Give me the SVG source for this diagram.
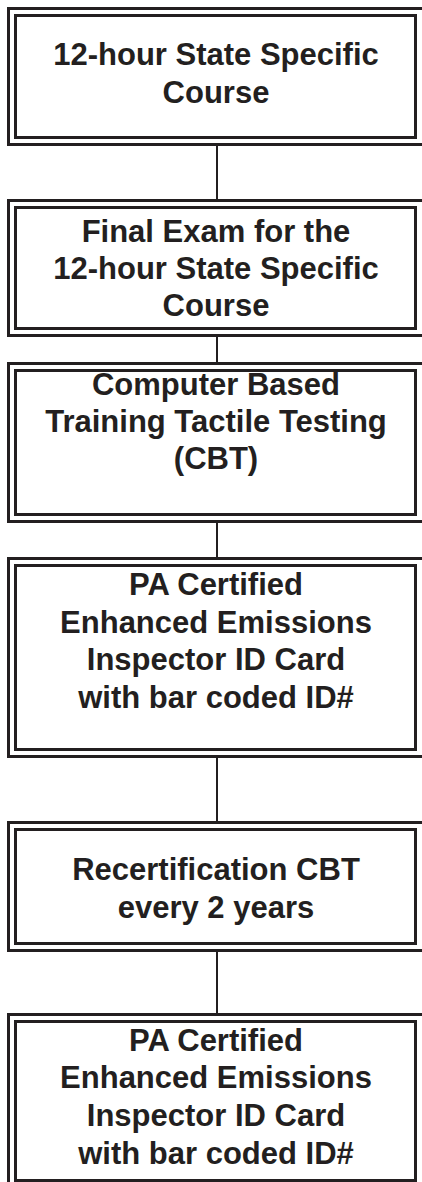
<svg xmlns="http://www.w3.org/2000/svg" width="422" height="1182" viewBox="0 0 422 1182">
<style>
.o{fill:none;stroke:#231f20;stroke-width:3}
.i{fill:none;stroke:#231f20;stroke-width:3}
.c{stroke:#231f20;stroke-width:2;fill:none}
text{font-family:"Liberation Sans",Arial,sans-serif;font-weight:bold;font-size:31px;fill:#231f20;text-anchor:middle}
</style>
<rect width="422" height="1182" fill="#fff"/>
<g id="connectors">
<line class="c" x1="217" y1="146" x2="217" y2="199"/>
<line class="c" x1="217" y1="337" x2="217" y2="362"/>
<line class="c" x1="217" y1="523" x2="217" y2="557"/>
<line class="c" x1="217" y1="758" x2="217" y2="821"/>
<line class="c" x1="217" y1="952" x2="217" y2="1013"/>
</g>
<g id="n1">
<rect class="o" x="8.5" y="8.5" width="420" height="136"/>
<rect class="i" x="15.5" y="15.5" width="400" height="122"/>
<text x="216" y="65">12-hour State Specific</text>
<text x="216" y="103">Course</text>
</g>
<g id="n2">
<rect class="o" x="8.5" y="200.5" width="420" height="135"/>
<rect class="i" x="15.5" y="207.5" width="400" height="121"/>
<text x="216" y="242">Final Exam for the</text>
<text x="216" y="279">12-hour State Specific</text>
<text x="216" y="316">Course</text>
</g>
<g id="n3">
<rect class="o" x="8.5" y="363.5" width="420" height="158"/>
<rect class="i" x="15.5" y="370.5" width="400" height="144"/>
<text x="216" y="395">Computer Based</text>
<text x="216" y="432">Training Tactile Testing</text>
<text x="216" y="469">(CBT)</text>
</g>
<g id="n4">
<rect class="o" x="8.5" y="558.5" width="420" height="198"/>
<rect class="i" x="15.5" y="565.5" width="400" height="184"/>
<text x="216" y="595">PA Certified</text>
<text x="216" y="633">Enhanced Emissions</text>
<text x="216" y="670">Inspector ID Card</text>
<text x="216" y="708">with bar coded ID#</text>
</g>
<g id="n5">
<rect class="o" x="8.5" y="822.5" width="420" height="128"/>
<rect class="i" x="15.5" y="829.5" width="400" height="114"/>
<text x="216" y="880">Recertification CBT</text>
<text x="216" y="918">every 2 years</text>
</g>
<g id="n6">
<rect class="o" x="8.5" y="1014.5" width="420" height="180"/>
<rect class="i" x="15.5" y="1021.5" width="400" height="159"/>
<text x="216" y="1051">PA Certified</text>
<text x="216" y="1088">Enhanced Emissions</text>
<text x="216" y="1126">Inspector ID Card</text>
<text x="216" y="1164">with bar coded ID#</text>
</g>
</svg>
